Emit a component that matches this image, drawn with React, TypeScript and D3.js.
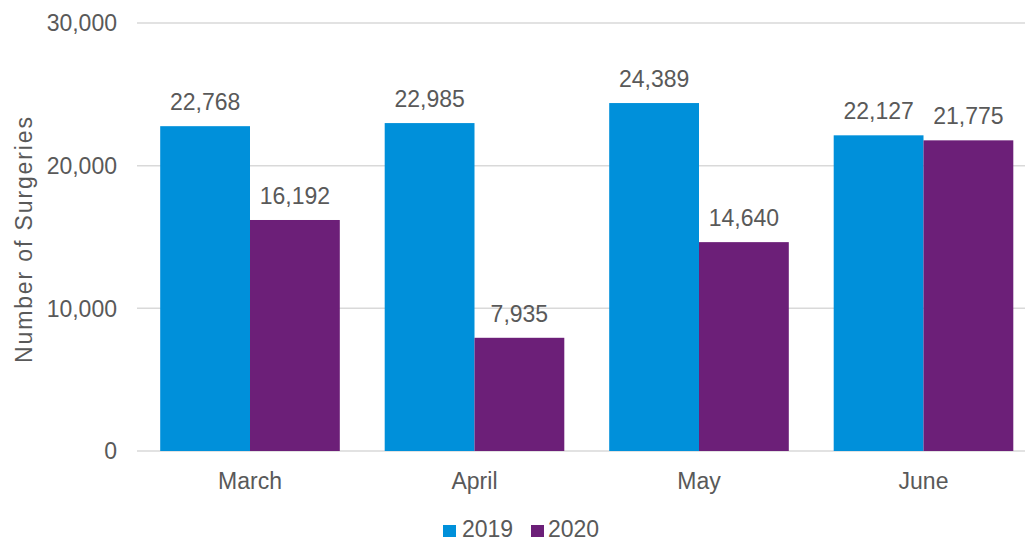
import React from "react";
import * as d3 from "d3";

const months = ["March", "April", "May", "June"];
const series2019 = [22768, 22985, 24389, 22127];
const series2020 = [16192, 7935, 14640, 21775];
const seriesNames = ["2019", "2020"];
const seriesColors = ["#0090DA", "#6C1F78"];
const yTicks = [0, 10000, 20000, 30000];

const W = 1025;
const H = 543;
const TEXT = "#595959";
const FONT = "'Liberation Sans', Arial, sans-serif";

export default function App() {
  const x = d3.scaleBand<string>().domain(months).range([137.75, 1035.75]).paddingInner(0.2).paddingOuter(0.1);
  const x1 = d3.scaleBand<string>().domain(seriesNames).range([0, x.bandwidth()]);
  const y = d3.scaleLinear().domain([0, 30000]).range([451, 23]);
  const fmt = d3.format(",");
  const data = [series2019, series2020];

  return (
    <svg width={W} height={H} style={{ position: "absolute", left: 0, top: 0, background: "#fff" }} fontFamily={FONT}>
      <rect x={0} y={0} width={W} height={H} fill="#fff" />
      {yTicks.map((t) => (
        <g key={t}>
          <line x1={137} x2={W} y1={y(t)} y2={y(t)} stroke="#D9D9D9" strokeWidth={1.5} />
          <text x={117} y={y(t)} dy="0.36em" textAnchor="end" fontSize={23} fill={TEXT}>
            {fmt(t)}
          </text>
        </g>
      ))}
      {months.map((m, i) => (
        <g key={m}>
          {data.map((s, j) => {
            const bx = (x(m) as number) + (x1(seriesNames[j]) as number);
            const bw = x1.bandwidth();
            return (
              <g key={j}>
                <rect x={bx} y={y(s[i])} width={bw} height={y(0) - y(s[i])} fill={seriesColors[j]} />
                <text x={bx + bw / 2} y={y(s[i]) - 16} textAnchor="middle" fontSize={23} fill={TEXT}>
                  {fmt(s[i])}
                </text>
              </g>
            );
          })}
          <text x={(x(m) as number) + x.bandwidth() / 2} y={489} textAnchor="middle" fontSize={23} fill={TEXT}>
            {m}
          </text>
        </g>
      ))}
      <text
        transform={`translate(32,240) rotate(-90)`}
        textAnchor="middle"
        fontSize={23}
        fill={TEXT}
        textLength={246}
        lengthAdjust="spacing"
      >
        Number of Surgeries
      </text>
      <g>
        <rect x={443} y={525} width={13} height={12} fill={seriesColors[0]} />
        <text x={462} y={537} fontSize={23} fill={TEXT}>{seriesNames[0]}</text>
        <rect x={531} y={525} width={13} height={12} fill={seriesColors[1]} />
        <text x={548} y={537} fontSize={23} fill={TEXT}>{seriesNames[1]}</text>
      </g>
    </svg>
  );
}
